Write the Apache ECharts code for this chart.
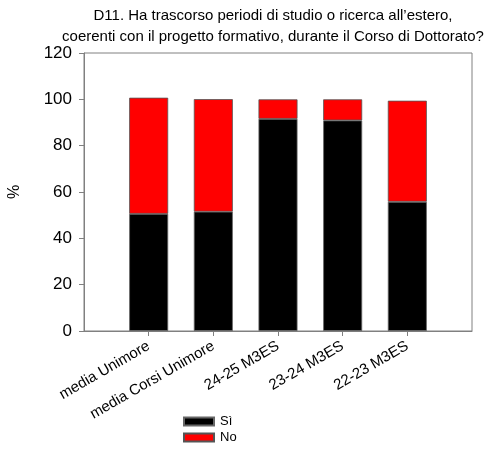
<!DOCTYPE html>
<html>
<head>
<meta charset="utf-8">
<script src="https://cdn.jsdelivr.net/npm/echarts@6/dist/echarts.min.js"></script>
<style>html,body{margin:0;padding:0;background:#fff}#c{width:486px;height:450px}</style>
</head>
<body>
<div id="c"></div>
<script>
var categories = ['media Unimore', 'media Corsi Unimore', '24-25 M3ES', '23-24 M3ES', '22-23 M3ES'];
var siValues = [50.6, 51.5, 91.6, 90.9, 55.8];
var noValues = [50.1, 48.6, 8.4, 9.1, 43.6];
var yTicks = [0, 20, 40, 60, 80, 100, 120];
var seriesNames = ['Sì', 'No'];
var titleText = "D11. Ha trascorso periodi di studio o ricerca all\u2019estero,\ncoerenti con il progetto formativo, durante il Corso di Dottorato?";

// pad axis with empty slots at both ends so bars sit one band in from the frame
var axisCats = [''].concat(categories).concat(['']);
function pad(arr) { return [null].concat(arr).concat([null]); }

var FONT = 'Liberation Sans, Arial, sans-serif';
var chart = echarts.init(document.getElementById('c'), null, {renderer: 'canvas'});
chart.setOption({
  animation: false,
  backgroundColor: '#fff',
  title: {
    text: titleText,
    left: 273,
    top: 1,
    padding: [4, 0, 0, 0],
    textAlign: 'center',
    textStyle: {fontFamily: FONT, fontSize: 15, fontWeight: 'normal', color: '#000', lineHeight: 21}
  },
  legend: {
    orient: 'vertical',
    left: 183,
    top: 415,
    padding: 0,
    itemWidth: 30,
    itemHeight: 8,
    itemGap: 3,
    icon: 'rect',
    data: seriesNames,
    textStyle: {fontFamily: FONT, fontSize: 13, color: '#000', padding: [0, 0, 0, 1]}
  },
  grid: {
    left: 84, right: 14, top: 53, bottom: 119,
    outerBoundsMode: 'none',
    containLabel: false,
    show: true, borderColor: '#808080', borderWidth: 1, backgroundColor: 'transparent'
  },
  xAxis: {
    type: 'category',
    data: axisCats,
    boundaryGap: false,
    axisLine: {lineStyle: {color: '#808080', width: 1}},
    axisTick: {
      length: 5, lineStyle: {color: '#808080'},
      interval: function (i) { return i > 0 && i < axisCats.length - 1; }
    },
    axisLabel: {
      rotate: 30, interval: 0, margin: 14,
      fontFamily: FONT, fontSize: 15, color: '#000'
    },
    splitLine: {show: false}
  },
  yAxis: {
    type: 'value',
    min: yTicks[0], max: yTicks[yTicks.length - 1], interval: 20,
    name: '%',
    nameLocation: 'middle',
    nameRotate: 90,
    nameGap: 61,
    nameTextStyle: {fontFamily: FONT, fontSize: 16, color: '#000'},
    axisLine: {show: true, lineStyle: {color: '#808080', width: 1}},
    axisTick: {show: true, length: 5, lineStyle: {color: '#808080'}},
    axisLabel: {fontFamily: FONT, fontSize: 17, color: '#000', margin: 12},
    splitLine: {show: false}
  },
  series: [
    {
      name: seriesNames[0], type: 'bar', stack: 'tot', barWidth: 39,
      data: pad(siValues),
      itemStyle: {color: '#000000', borderColor: '#666', borderWidth: 0.8}
    },
    {
      name: seriesNames[1], type: 'bar', stack: 'tot', barWidth: 39,
      data: pad(noValues),
      itemStyle: {color: '#ff0000', borderColor: '#555', borderWidth: 0.8}
    }
  ]
});
</script>
</body>
</html>
